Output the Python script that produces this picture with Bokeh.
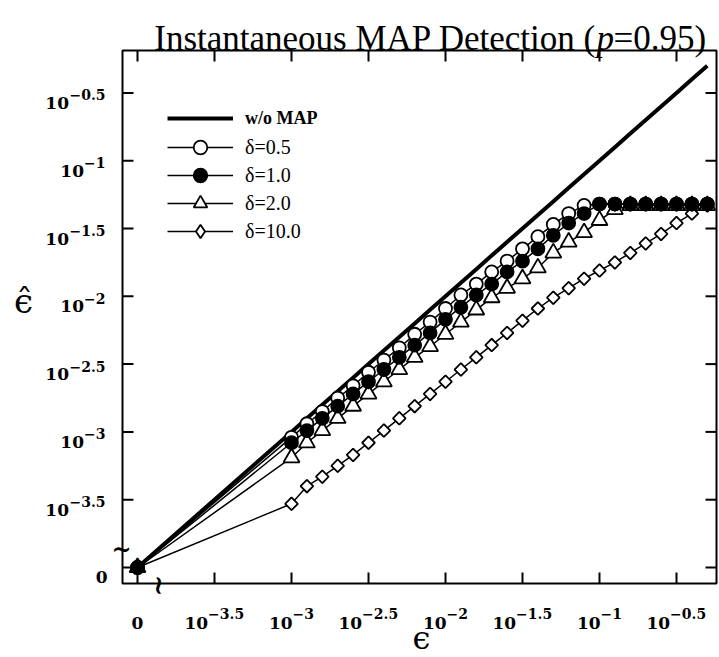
import math
from bokeh.plotting import figure
from bokeh.models import Range1d, Label, Legend, LegendItem
from bokeh.embed import file_html
from bokeh.resources import INLINE

# ---------------- data (log10 values; every curve also starts at eps = 0) ----------------
LOG_EPS = [-3.0, -2.9, -2.8, -2.7, -2.6, -2.5, -2.4, -2.3, -2.2, -2.1,
           -2.0, -1.9, -1.8, -1.7, -1.6, -1.5, -1.4, -1.3, -1.2, -1.1,
           -1.0, -0.9, -0.8, -0.7, -0.6, -0.5, -0.4, -0.3]
WO_MAP = [-3.0, -2.9, -2.8, -2.7, -2.6, -2.5, -2.4, -2.3, -2.2, -2.1,
          -2.0, -1.9, -1.8, -1.7, -1.6, -1.5, -1.4, -1.3, -1.2, -1.1,
          -1.0, -0.9, -0.8, -0.7, -0.6, -0.5, -0.4, -0.3]
D05 = [-3.04, -2.94, -2.85, -2.75, -2.66, -2.56, -2.47, -2.38, -2.28, -2.19,
       -2.09, -1.99, -1.91, -1.82, -1.74, -1.65, -1.56, -1.47, -1.39, -1.33,
       -1.32, -1.32, -1.32, -1.32, -1.32, -1.32, -1.32, -1.32]
D10 = [-3.08, -2.99, -2.90, -2.81, -2.72, -2.63, -2.54, -2.45, -2.36, -2.27,
       -2.17, -2.08, -1.99, -1.91, -1.82, -1.74, -1.65, -1.55, -1.46, -1.39,
       -1.32, -1.32, -1.32, -1.32, -1.32, -1.32, -1.32, -1.32]
D20 = [-3.19, -3.08, -2.99, -2.90, -2.81, -2.72, -2.63, -2.54, -2.45, -2.37,
       -2.28, -2.19, -2.10, -2.01, -1.94, -1.87, -1.79, -1.68, -1.60, -1.53,
       -1.44, -1.36, -1.33, -1.33, -1.33, -1.33, -1.33, -1.33]
D100 = [-3.53, -3.40, -3.33, -3.25, -3.17, -3.08, -2.99, -2.90, -2.81, -2.72,
        -2.63, -2.54, -2.45, -2.36, -2.27, -2.18, -2.09, -2.01, -1.94, -1.87,
        -1.81, -1.75, -1.68, -1.61, -1.54, -1.46, -1.39, -1.33]

ZERO_POS = -4.0   # where the value 0 sits on the broken log axes
TICKS = [-4.0, -3.5, -3.0, -2.5, -2.0, -1.5, -1.0, -0.5]
TICK_EXP = ["0", "\u22123.5", "\u22123", "\u22122.5", "\u22122", "\u22121.5", "\u22121", "\u22120.5"]

TITLE_A = "Instantaneous MAP Detection ("
TITLE_P = "p"
TITLE_B = "=0.95)"
X_LABEL = "\u03f5"
Y_LABEL = "\u03f5\u0302"
LEGEND_LABELS = ["w/o MAP", "\u03b4=0.5", "\u03b4=1.0", "\u03b4=2.0", "\u03b4=10.0"]

# ---------------- layout (the whole canvas is the data frame) ----------------
W, H = 719, 657
PXX, PXY = 154.0, 135.6          # pixels per decade
OX, OY = 137.0, 567.0            # canvas position of the (0, 0) point
BOX_L, BOX_R, BOX_T, BOX_B = 122, 716, 50, 583
TICK_LEN = 11
LEG_X = 167
LEG_ROWS = [118, 147, 175, 203, 231]
LEG_GH = 34

def X(px):
    return ZERO_POS + (px - OX) / PXX

def Y(py):
    return ZERO_POS + (OY - py) / PXY

p = figure(width=W, height=H, x_range=Range1d(X(0), X(W)), y_range=Range1d(Y(H), Y(0)),
           output_backend="svg", toolbar_location=None,
           x_axis_location=None, y_axis_location=None,
           min_border_left=0, min_border_right=0, min_border_top=0, min_border_bottom=0)
p.title.visible = False
p.grid.visible = False
p.outline_line_color = None
p.background_fill_color = "white"
p.border_fill_color = "white"

# frame box and inward ticks on all four sides
p.quad(left=X(BOX_L), right=X(BOX_R), top=Y(BOX_T), bottom=Y(BOX_B),
       fill_color=None, line_color="black", line_width=2)
tl_x = TICK_LEN / PXX
tl_y = TICK_LEN / PXY
n = len(TICKS)
p.segment(x0=TICKS, y0=[Y(BOX_B)] * n, x1=TICKS, y1=[Y(BOX_B) + tl_y] * n,
          line_color="black", line_width=2)
p.segment(x0=TICKS, y0=[Y(BOX_T)] * n, x1=TICKS, y1=[Y(BOX_T) - tl_y] * n,
          line_color="black", line_width=2)
p.segment(x0=[X(BOX_L)] * n, y0=TICKS, x1=[X(BOX_L) + tl_x] * n, y1=TICKS,
          line_color="black", line_width=2)
p.segment(x0=[X(BOX_R)] * n, y0=TICKS, x1=[X(BOX_R) - tl_x] * n, y1=TICKS,
          line_color="black", line_width=2)

# ---------------- curves ----------------
xs = [ZERO_POS] + LOG_EPS
r_wo = p.line(xs, [ZERO_POS] + WO_MAP, line_color="black", line_width=4)

rends = {}
# delta = 10.0 : diamonds (a plain diamond underneath supplies the legend sample)
ys = [ZERO_POS] + D100
ln = p.line(xs, ys, line_color="black", line_width=1.5)
dm = p.scatter(xs, ys, marker="diamond", size=12, fill_color="white",
               line_color="black", line_width=1.8)
p.scatter(xs, ys, marker="square", size=9, angle=math.pi / 4, fill_color="white",
          line_color="black", line_width=1.8)
rends["d100"] = [ln, dm]

for key, vals, mk, sz, fill in [
    ("d20", D20, "triangle", 16, "white"),
    ("d05", D05, "circle", 13, "white"),
    ("d10", D10, "circle", 13, "black"),
]:
    ys = [ZERO_POS] + vals
    ln = p.line(xs, ys, line_color="black", line_width=1.5)
    sc = p.scatter(xs, ys, marker=mk, size=sz, fill_color=fill,
                   line_color="black", line_width=1.8)
    rends[key] = [ln, sc]

# ---------------- legend: one row per Legend so rows sit exactly ----------------
common = dict(border_line_color=None, background_fill_alpha=0, padding=0, margin=0,
              spacing=0, glyph_width=66, glyph_height=LEG_GH, label_height=LEG_GH,
              label_standoff=12, label_text_font="Liberation Serif",
              label_text_color="black")
row_renderers = [[r_wo], rends["d05"], rends["d10"], rends["d20"], rends["d100"]]
for i, (lab, rr, yc) in enumerate(zip(LEGEND_LABELS, row_renderers, LEG_ROWS)):
    style = "bold" if i == 0 else "normal"
    size = "18px" if i == 0 else "20px"
    leg = Legend(items=[LegendItem(label=lab, renderers=rr)],
                 location=(LEG_X, H - (yc + LEG_GH // 2)),
                 label_text_font_style=style, label_text_font_size=size, **common)
    p.add_layout(leg)

# ---------------- texts ----------------
TF = "DejaVu Serif"
CW = {"0": .696, "1": .696, "2": .696, "3": .696, "5": .696, ".": .380, "\u2212": .838}
def width(s, size):
    return sum(CW.get(c, .6) for c in s) * size

def txt(x, y, s, size, align="left", baseline="alphabetic", font=TF, style="bold", angle=0.0):
    p.add_layout(Label(x=x, y=y, text=s, text_align=align, text_baseline=baseline,
                       text_font=font, text_font_style=style, text_font_size=f"{size}px",
                       text_color="black", angle=angle))

BASE_SZ, EXP_SZ = 17, 14
for t, e in zip(TICKS, TICK_EXP):
    if e == "0":
        txt(t, Y(622), "0", BASE_SZ, align="center")
        txt(X(107), t - 9 / PXY, "0", BASE_SZ, align="right")
        continue
    wb = width("10", BASE_SZ)
    we = width(e, EXP_SZ)
    left = -(wb + we) / 2
    # x-axis label centred on its tick
    txt(t + left / PXX, Y(622), "10", BASE_SZ)
    txt(t + (left + wb) / PXX, Y(613), e, EXP_SZ)
    # y-axis label right-aligned left of the frame
    txt(X(105), t - 2 / PXY, e, EXP_SZ, align="right")
    txt(X(105 - we), t - 10 / PXY, "10", BASE_SZ, align="right")

# title
txt(X(596), Y(38), TITLE_A, 35, align="right", font="Liberation Serif", style="normal")
txt(X(596), Y(38), TITLE_P, 35, font="Liberation Serif", style="italic")
txt(X(613), Y(38), TITLE_B, 35, font="Liberation Serif", style="normal")

# axis titles
txt(X(421), Y(656), X_LABEL, 32, align="center", baseline="bottom", style="normal")
txt(X(23), Y(300), Y_LABEL, 34, align="center", baseline="middle", style="normal")

# axis break marks
txt(X(121), Y(548), "~", 24, align="center", baseline="middle")
txt(X(157), Y(585), "~", 26, align="center", baseline="middle", angle=math.pi / 2)

open("out.html", "w").write(file_html(p, INLINE))
